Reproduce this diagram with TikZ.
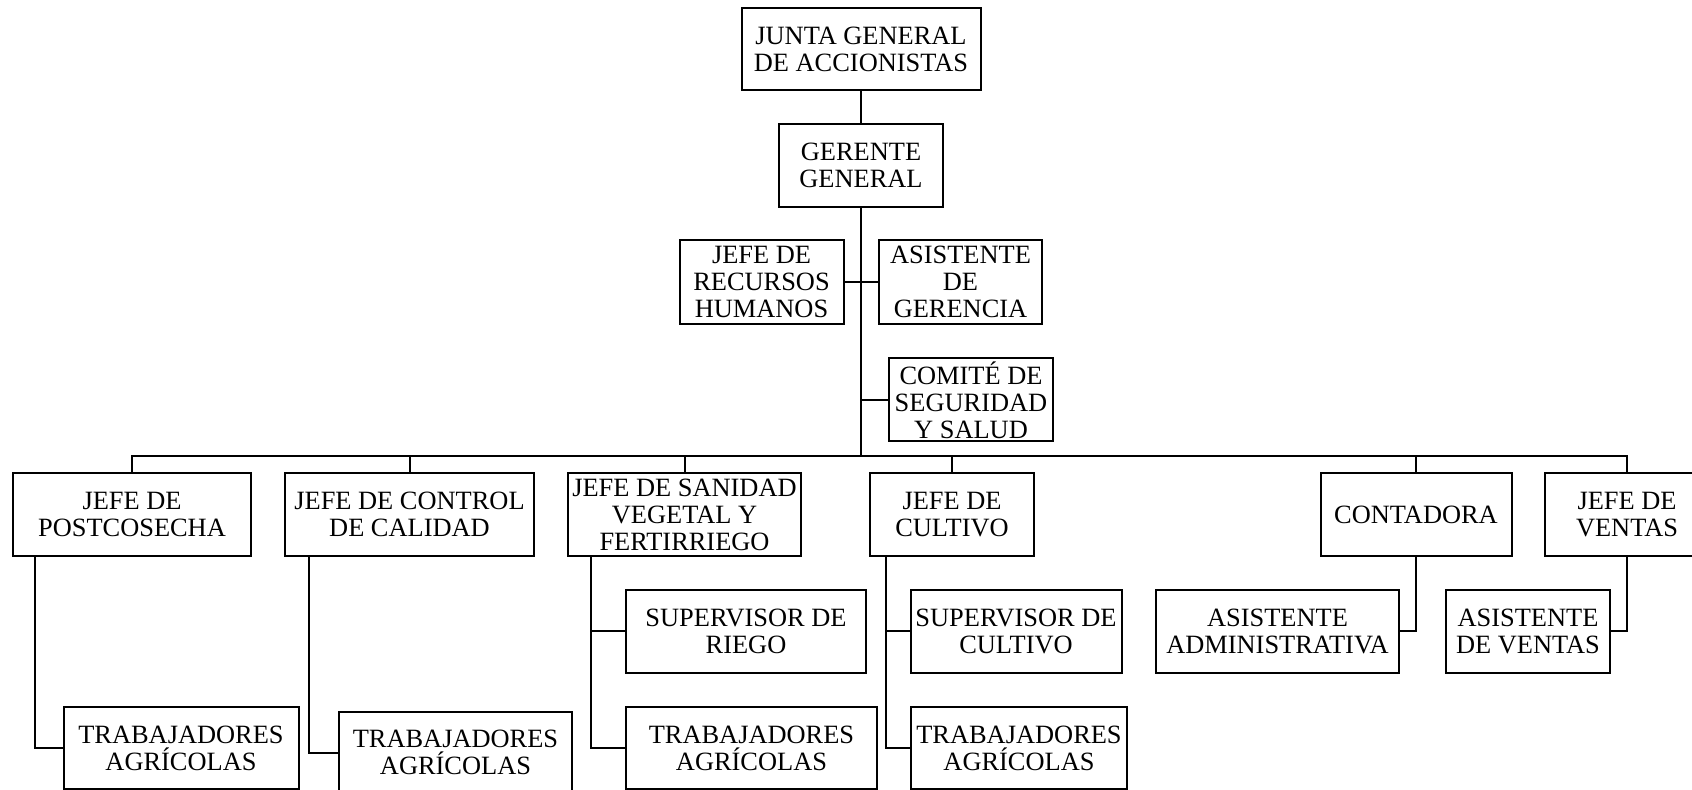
\documentclass[tikz,border=0pt]{standalone}
\usepackage{fontspec}
\setmainfont{Liberation Serif}
\usetikzlibrary{positioning,calc}

\newcommand{\orgfont}{\fontsize{13.2}{13.5}\selectfont}

\tikzset{
  unitbox/.style={draw, line width=1pt, inner sep=0pt, align=center, font=\orgfont},
  dims/.style 2 args={minimum width=#1*0.5pt, minimum height=#2*0.5pt},
  link/.style={line width=1pt}
}

\begin{document}
\begin{tikzpicture}[x=0.5pt,y=-0.5pt]
  \useasboundingbox (0,0) rectangle (1692,790);

  % direccion
  \node[unitbox,dims={239}{82}] (junta) at (861,49) {JUNTA GENERAL\\DE ACCIONISTAS};
  \node[unitbox,dims={164}{83}] (gerente) at (861,165.5) {GERENTE\\GENERAL};
  \node[unitbox,dims={164}{84}] (rrhh) at (761.5,282) {JEFE DE\\RECURSOS\\HUMANOS};
  \node[unitbox,dims={163}{84}] (asistg) at (960.5,282) {ASISTENTE\\DE\\GERENCIA};
  \node[unitbox,dims={164}{83}] (comite) at (971,400) {COMITÉ DE\\SEGURIDAD\\Y SALUD};
  \coordinate (bus) at (861,456);

  % jefaturas
  \node[unitbox,dims={238}{83}] (post) at (132,514.5) {JEFE DE\\POSTCOSECHA};
  \node[unitbox,dims={249}{83}] (ctrl) at (409.5,514.5) {JEFE DE CONTROL\\DE CALIDAD};
  \node[unitbox,dims={233}{83}] (sani) at (684.5,514.5) {JEFE DE SANIDAD\\VEGETAL Y\\FERTIRRIEGO};
  \node[unitbox,dims={164}{83}] (cult) at (952,514.5) {JEFE DE\\CULTIVO};
  \node[unitbox,dims={191}{83}] (cont) at (1416,514.5) {CONTADORA};
  \node[unitbox,dims={164}{83}] (vent) at (1627,514.5) {JEFE DE\\VENTAS};

  % supervisores y asistentes
  \node[unitbox,dims={240}{83}] (riego) at (746,631.5) {SUPERVISOR DE\\RIEGO};
  \node[unitbox,dims={211}{83}] (supc) at (1016,631.5) {SUPERVISOR DE\\CULTIVO};
  \node[unitbox,dims={243}{83}] (asad) at (1277.5,631.5) {ASISTENTE\\ADMINISTRATIVA};
  \node[unitbox,dims={164.5}{83}] (asve) at (1528,631.5) {ASISTENTE\\DE VENTAS};

  % trabajadores
  \node[unitbox,dims={235}{82}] (trab1) at (181,748) {TRABAJADORES\\AGRÍCOLAS};
  \node[unitbox,dims={233}{82}] (trab2) at (455.5,752.5) {TRABAJADORES\\AGRÍCOLAS};
  \node[unitbox,dims={251}{82}] (trab3) at (751.5,748) {TRABAJADORES\\AGRÍCOLAS};
  \node[unitbox,dims={216}{82}] (trab4) at (1019,748) {TRABAJADORES\\AGRÍCOLAS};

  \draw[link] (junta) -- (gerente);
  \draw[link] (gerente) -- (bus);
  \draw[link] (rrhh) -- (asistg);
  \draw[link] (comite.west) -- (comite.west -| bus);
  \draw[link] (post.north) |- (bus) -| (vent.north);
  \foreach \n in {ctrl,sani,cult,cont}
    \draw[link] (\n.north) -- (\n.north |- bus);

  \draw[link] ([xshift=11.5pt]post.south west) |- (trab1.west);
  \draw[link] ([xshift=12.5pt]ctrl.south west) |- (trab2.west);
  \draw[link] ([xshift=12pt]sani.south west) |- (trab3.west);
  \draw[link] ([xshift=12pt]sani.south west) |- (riego.west);
  \draw[link] ([xshift=8.25pt]cult.south west) |- (trab4.west);
  \draw[link] ([xshift=8.25pt]cult.south west) |- (supc.west);
  \draw[link] (cont.south) |- (asad.east);
  \draw[link] (vent.south) |- (asve.east);
\end{tikzpicture}
\end{document}
